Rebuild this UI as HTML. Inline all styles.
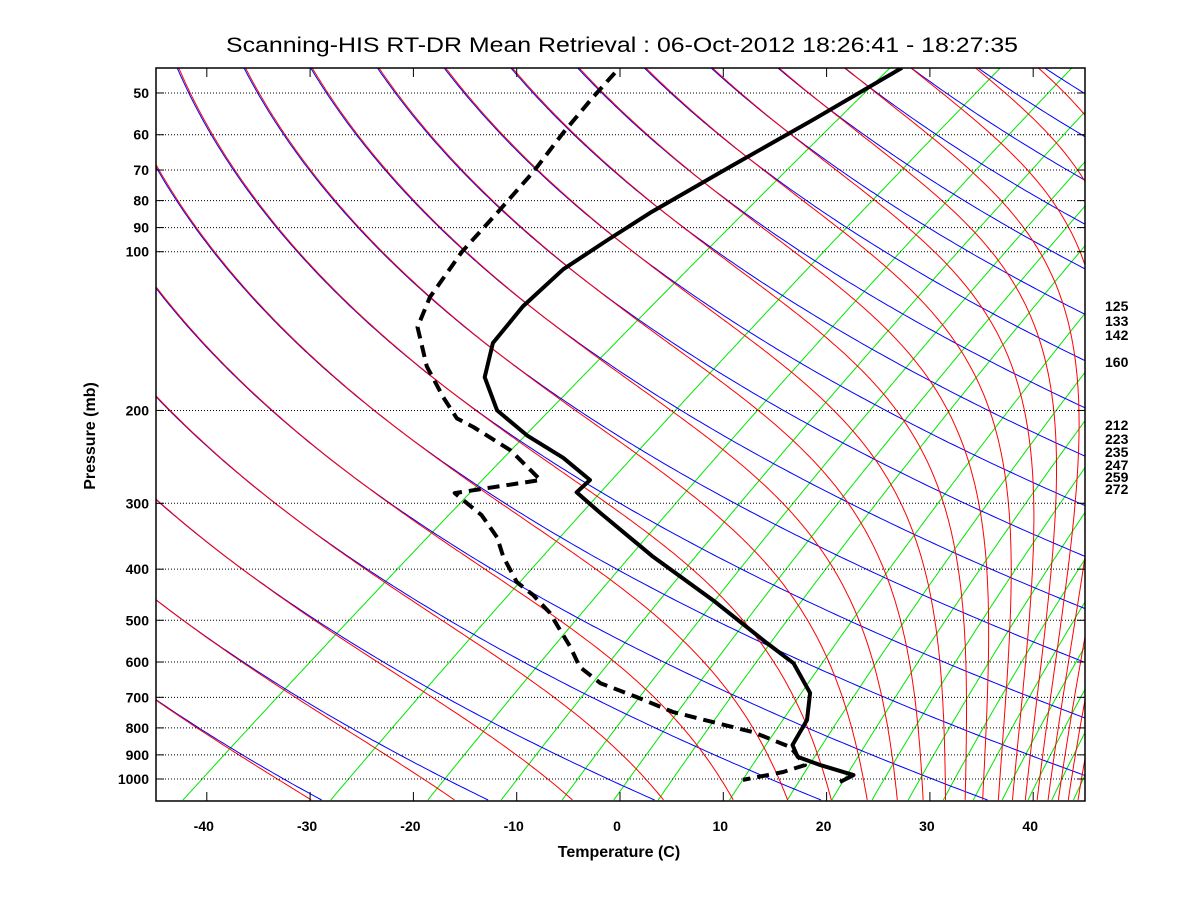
<!DOCTYPE html>
<html><head><meta charset="utf-8"><style>
html,body{margin:0;padding:0;background:#fff;}
svg{display:block;font-family:"Liberation Sans",Arial,sans-serif;}
</style></head><body>
<svg id="chart" width="1200" height="900" viewBox="0 0 1200 900" xmlns="http://www.w3.org/2000/svg">
<rect x="0" y="0" width="1200" height="900" fill="#fff"/>
<text x="226" y="52" font-size="21" textLength="792" lengthAdjust="spacingAndGlyphs">Scanning-HIS RT-DR Mean Retrieval : 06-Oct-2012 18:26:41 - 18:27:35</text>
<defs><clipPath id="plotclip"><rect x="156" y="68" width="929" height="733"/></clipPath></defs>
<g id="bg" clip-path="url(#plotclip)"></g>
<g id="grid"></g>
<g id="data" clip-path="url(#plotclip)"></g>
<rect x="156" y="68" width="929" height="733" fill="none" stroke="#000" stroke-width="1.5"/>
<g id="axes"></g>
<text x="619" y="857" font-size="16" font-weight="bold" text-anchor="middle">Temperature (C)</text>
<text x="0" y="0" font-size="16" font-weight="bold" text-anchor="middle" transform="translate(95,436) rotate(-90)">Pressure (mb)</text>
<g id="rlabels"></g>
</svg>
<script>
// ---- data ----
const pressureTicks = [50,60,70,80,90,100,200,300,400,500,600,700,800,900,1000];
const tempTicks = [-40,-30,-20,-10,0,10,20,30,40];
const rightLabels = ["125","133","142","160","212","223","235","247","259","272"];
const rightLabelY = [306,321,335,362,425,439,452,465,477,489];
const tempP = [44.8,56.2,69.1,84.4,95,108,127,149,173,200,223,246,271,286,313,379,458,552,603,687,773,862,908,941,983,1013];
const tempT = [27.3,18.7,10.6,2.9,-1.2,-5.5,-9.4,-12.3,-13.1,-11.9,-9.0,-5.5,-2.9,-4.2,-1.9,3.2,9.0,14.2,16.8,18.4,18.1,16.7,17.2,19.4,22.6,21.3];
const dewP = [45.8,50.9,59.5,70.6,84.4,100,122,139,165,189,207,215,238,271,287,316,348,379,423,448,484,522,562,613,658,699,746,780,815,870,941,970,1004];
const dewT = [-0.5,-2.6,-5.5,-8.4,-11.9,-15.3,-18.4,-19.6,-18.7,-17.1,-15.8,-14.2,-10.6,-7.7,-16.0,-13.4,-11.9,-11.3,-10.0,-8.4,-6.8,-5.8,-4.8,-3.9,-1.9,1.6,5.1,9.0,12.9,16.5,17.9,15.8,11.9];
const greenBottom = [-42.3,-28.0,-18.6,-11.5,-5.6,-0.6,3.7,10.6,16.2,20.5,24.4,27.9,31.3,34.2,37.0,39.5,41.8,43.9];

// ---- axes ----
const NS="http://www.w3.org/2000/svg";
const X0=620, SX=10.33, Y0=779, SY=229, K=29.8, PB=1096, PT=40;
const UB=Math.log(1000/PB);
function xs(v){return X0+SX*v;}
function ys(p){return Y0+SY*Math.log(p/1000);}
function skew(tc,p){return tc+K*Math.log(1000/p);}
function mk(tag,attrs,parent){const e=document.createElementNS(NS,tag);for(const k in attrs)e.setAttribute(k,attrs[k]);parent.appendChild(e);return e;}
function pathFrom(pts){return pts.map((q,i)=>(i?'L':'M')+q[0].toFixed(1)+','+q[1].toFixed(1)).join('');}
function es(tc){return 6.112*Math.exp(17.67*tc/(tc+243.5));}
const bg=document.getElementById('bg'), grid=document.getElementById('grid'), data=document.getElementById('data'), axes=document.getElementById('axes'), rl=document.getElementById('rlabels');
const pList=[]; for(let lp=Math.log(PB);lp>=Math.log(PT);lp-=0.01) pList.push(Math.exp(lp));

// mixing ratio lines (green)
greenBottom.forEach((b,i)=>{
  const e0=es(b-K*UB); const w=0.622*e0/(PB-e0);
  const pts=pList.map(p=>{const e=w*p/(0.622+w);const l=Math.log(e/6.112);const td=243.5*l/(17.67-l);return [xs(skew(td,p)),ys(p)];});
  const el=mk('path',{d:pathFrom(pts),fill:'none',stroke:'#00e600','stroke-width':1},bg);
  
  
});
// dry adiabats (blue) and moist adiabats (red, asymptotic to dry at top)
for(let n=-10;n<=34;n++){
  const th=240.6+15.7*n;
  const pts=pList.map(p=>[xs(skew(th*Math.pow(p/1000,0.286)-273.15,p)),ys(p)]);
  const el=mk('path',{d:pathFrom(pts),fill:'none',stroke:'#0000ff','stroke-width':1},bg);
  
  
  // moist: integrate downward from top
  let T=th*Math.pow(PT/1000,0.286)+0.15; const mp=[];
  for(let lp=Math.log(PT);lp<=Math.log(PB)+0.001;lp+=0.01){
    const p=Math.exp(lp); mp.push([xs(skew(T-273.15,p)),ys(p)]);
    if(T>330) break;
    const e=es(T-273.15); const rs=0.622*e/Math.max(p-e,1);
    const dT=(287*T+2.5e6*rs)/(1004+2.5e6*2.5e6*rs*0.622/(287*T*T));
    T+=dT*0.01;
  }
  const r=mk('path',{d:pathFrom(mp),fill:'none',stroke:'#ff0000','stroke-width':1},bg);
  
  
}

// pressure grid + labels
pressureTicks.forEach(p=>{
  const y=ys(p);
  const l=mk('line',{x1:156,x2:1085,y1:y,y2:y,stroke:'#000','stroke-width':1,'stroke-dasharray':'1,2'},grid);
  
  
  mk('line',{x1:156,x2:164,y1:y,y2:y,stroke:'#000','stroke-width':1},axes);
  mk('line',{x1:1077,x2:1085,y1:y,y2:y,stroke:'#000','stroke-width':1},axes);
  const t=mk('text',{x:149,y:y+5,'font-size':14,'font-weight':'bold','text-anchor':'end'},axes);
  t.textContent=p;
  
  
});
tempTicks.forEach(v=>{
  const x=xs(v);
  mk('line',{x1:x,x2:x,y1:801,y2:792,stroke:'#000','stroke-width':1},axes);
  mk('line',{x1:x,x2:x,y1:68,y2:77,stroke:'#000','stroke-width':1},axes);
  const t=mk('text',{x:x-3,y:831,'font-size':14,'font-weight':'bold','text-anchor':'middle'},axes);
  t.textContent=v;
  
  
});
rightLabels.forEach((s,i)=>{
  const t=mk('text',{x:1105,y:rightLabelY[i]+5,'font-size':14,'font-weight':'bold'},rl);
  t.textContent=s;
  
  
});

// profiles
const tp=mk('path',{d:pathFrom(tempP.map((p,i)=>[xs(tempT[i]),ys(p)])),fill:'none',stroke:'#000','stroke-width':4,'stroke-linejoin':'round'},data);


const dp=mk('path',{d:pathFrom(dewP.map((p,i)=>[xs(dewT[i]),ys(p)])),fill:'none',stroke:'#000','stroke-width':4,'stroke-dasharray':'12,7','stroke-linejoin':'round'},data);


</script>
</body></html>
